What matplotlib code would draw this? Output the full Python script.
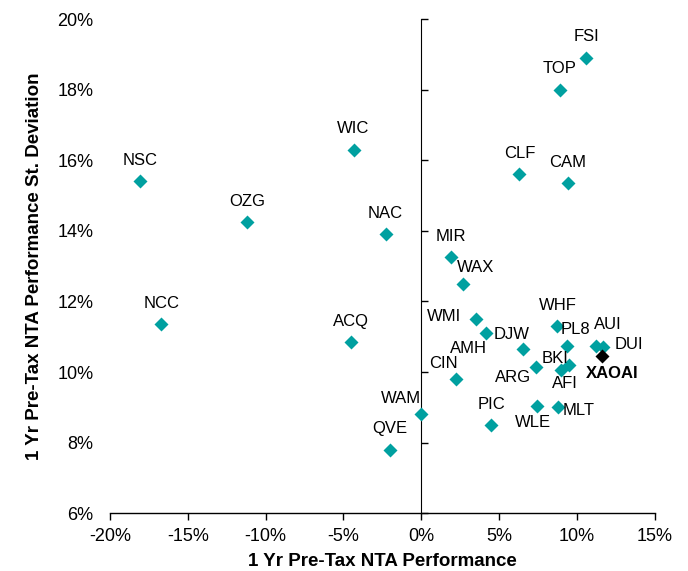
import numpy as np
import matplotlib.pyplot as plt
from matplotlib.ticker import FuncFormatter

plt.rcParams['font.family'] = ['Liberation Sans', 'DejaVu Sans']

# 1 yr pre-tax NTA performance (%) and its standard deviation (%)
tickers = ['NSC', 'OZG', 'WIC', 'NAC', 'MIR', 'WAX', 'CLF', 'CAM', 'TOP', 'FSI',
           'NCC', 'ACQ', 'WMI', 'AMH', 'DJW', 'WHF', 'PL8', 'AUI', 'DUI', 'BKI',
           'AFI', 'ARG', 'CIN', 'WAM', 'QVE', 'PIC', 'WLE', 'MLT', 'XAOAI']
perf = [-18.1, -11.2, -4.35, -2.3, 1.9, 2.7, 6.3, 9.4, 8.9, 10.6,
        -16.7, -4.5, 3.5, 4.15, 6.55, 8.75, 9.35, 11.2, 11.7, 9.5,
        9.0, 7.4, 2.25, -0.05, -2.0, 4.5, 7.45, 8.8, 11.6]
stdev = [15.4, 14.25, 16.3, 13.9, 13.25, 12.5, 15.6, 15.35, 18.0, 18.9,
         11.35, 10.85, 11.5, 11.1, 10.65, 11.3, 10.75, 10.75, 10.7, 10.2,
         10.05, 10.15, 9.8, 8.8, 7.8, 8.5, 9.05, 9.0, 10.45]

# label offsets in pixels (dx right, dy up)
offsets = {'WAX': (12, 16), 'WMI': (-32, 3), 'AMH': (-17, -15), 'DJW': (-12, 15),
           'PL8': (9, 16), 'AUI': (12, 21), 'DUI': (26, 3), 'BKI': (-14, 7),
           'AFI': (4, -13), 'ARG': (-23, -11), 'CIN': (-13, 16), 'WAM': (-20, 16),
           'WLE': (-4, -17), 'MLT': (20, -3), 'XAOAI': (10, -17)}

teal = '#00A0A0'

fig, ax = plt.subplots(figsize=(6.88, 5.71), dpi=100)
fig.subplots_adjust(left=0.160, right=0.9516, bottom=0.101, top=0.9667)

for t, x, y in zip(tickers, perf, stdev):
    bench = t == 'XAOAI'
    ax.plot(x, y, linestyle='none', marker='D', ms=7.5,
            color='black' if bench else teal, mec='none', zorder=3)
    dx, dy = offsets.get(t, (0, 21))
    ax.annotate(t, (x, y), xytext=(dx, dy), textcoords='offset pixels',
                ha='center', va='center', fontsize=12,
                fontweight='bold' if bench else 'normal')

ax.set_xlim(-20, 15)
ax.set_ylim(6, 20)
ax.set_xticks(np.arange(-20, 16, 5))
ax.set_yticks(np.arange(6, 21, 2))
pct = FuncFormatter(lambda v, p: f'{v:.0f}%')
ax.xaxis.set_major_formatter(pct)
ax.yaxis.set_major_formatter(pct)

for s in ['left', 'top', 'right']:
    ax.spines[s].set_visible(False)
ax.spines['bottom'].set_linewidth(1.0)
ax.tick_params(axis='x', direction='out', length=5, width=1.0, labelsize=13, pad=5.5)
ax.tick_params(axis='y', length=0, labelsize=13, pad=12)

# vertical axis line at 0% with its own tick marks
sec = ax.secondary_yaxis((0 - (-20)) / 35)
sec.set_yticks(np.arange(6, 21, 2))
sec.set_yticklabels([])
sec.tick_params(direction='out', length=5, width=1.0)
sec.spines['left'].set_linewidth(1.3)

ax.set_xlabel('1 Yr Pre-Tax NTA Performance', fontsize=13.5, fontweight='bold', labelpad=6)
ax.set_ylabel('1 Yr Pre-Tax NTA Performance St. Deviation', fontsize=13.5,
              fontweight='bold', labelpad=10)

fig.savefig('out.png', dpi=100)
